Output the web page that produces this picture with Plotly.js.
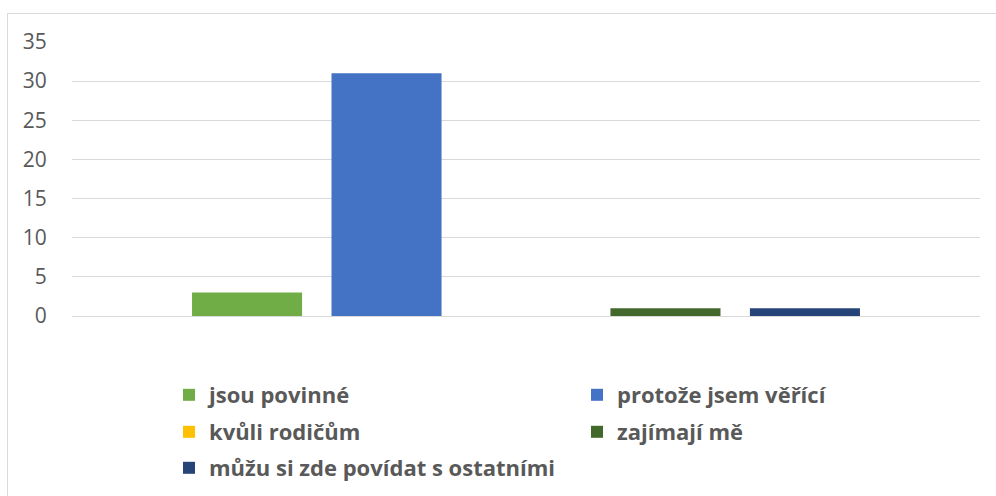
<!DOCTYPE html>
<html>
<head>
<meta charset="utf-8">
<script src="https://cdn.plot.ly/plotly-3.0.1.min.js"></script>
<style>
html,body{margin:0;padding:0;background:#fff;}
#frame{position:absolute;left:7px;top:13px;width:995px;height:490px;border-left:1px solid #d9d9d9;border-top:1px solid #d9d9d9;}
#chart{position:absolute;left:0;top:0;width:996px;height:496px;}
</style>
</head>
<body>
<div id="frame"></div>
<div id="chart"></div>
<script>
var categories = [""];
var seriesNames = ["jsou povinné", "protože jsem věřící", "kvůli rodičům", "zajímají mě", "můžu si zde povídat s ostatními"];
var seriesValues = [[3], [31], [0], [1], [1]];
var seriesColors = ["#70AD47", "#4472C4", "#FFC000", "#43682B", "#264478"];
var yTicks = [0, 5, 10, 15, 20, 25, 30, 35];
var legendRows = ["legend", "legend", "legend2", "legend2", "legend3"];
var legendWidths = [363, 280, 363, 280, 400];

var traces = seriesNames.map(function (n, i) {
  return {
    type: "bar",
    name: n,
    x: categories,
    y: seriesValues[i],
    legend: legendRows[i],
    legendwidth: legendWidths[i],
    marker: {color: seriesColors[i], line: {width: 0}},
    hoverinfo: "skip"
  };
});

function legendAt(yPx) {
  return {
    orientation: "h",
    entrywidthmode: "pixels",
    x: (169 - 72) / 908,
    xanchor: "left",
    y: (316 - yPx) / 274,
    yanchor: "middle",
    bgcolor: "rgba(0,0,0,0)",
    borderwidth: 0,
    font: {family: "Open Sans, sans-serif", size: 22, color: "#595959", weight: "bold"},
    traceorder: "normal"
  };
}

var layout = {
  width: 996,
  height: 496,
  margin: {l: 72, r: 16, t: 42, b: 180, pad: 0, autoexpand: false},
  paper_bgcolor: "rgba(0,0,0,0)",
  plot_bgcolor: "rgba(0,0,0,0)",
  barmode: "group",
  bargap: 0.232,
  bargroupgap: 0.211,
  font: {family: "Open Sans, sans-serif", color: "#595959"},
  showlegend: true,
  legend: legendAt(395),
  legend2: legendAt(432),
  legend3: legendAt(468),
  xaxis: {
    type: "category",
    showticklabels: false,
    showgrid: false,
    zeroline: false,
    showline: false,
    ticks: ""
  },
  yaxis: {
    range: [0, 35],
    tickvals: yTicks,
    ticktext: yTicks.map(String),
    showgrid: true,
    gridcolor: "#d9d9d9",
    gridwidth: 1,
    zeroline: true,
    zerolinecolor: "#d9d9d9",
    zerolinewidth: 1,
    showline: false,
    ticks: "outside",
    ticklen: 20,
    tickcolor: "rgba(0,0,0,0)",
    tickfont: {family: "Open Sans, sans-serif", size: 21, color: "#595959"},
    fixedrange: true
  }
};

Plotly.newPlot("chart", traces, layout, {displayModeBar: false, staticPlot: true});
</script>
</body>
</html>
